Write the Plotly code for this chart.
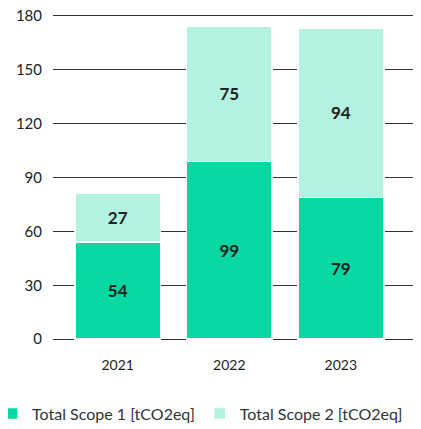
import plotly.graph_objects as go

years = ["2021", "2022", "2023"]
scope1 = [54, 99, 79]
scope2 = [27, 75, 94]
y_ticks = [0, 30, 60, 90, 120, 150, 180]

SCOPE1_COLOR = "#07d7a1"
SCOPE2_COLOR = "#b3f1e0"
TEXT = "#222222"
FONT = "Lato, 'Open Sans', sans-serif"

fig = go.Figure()
fig.add_trace(
    go.Bar(
        x=years,
        y=scope1,
        name="Total Scope 1 [tCO2eq]",
        marker=dict(color=SCOPE1_COLOR, line=dict(color="white", width=1.5)),
        text=scope1,
        textposition="inside",
        insidetextanchor="middle",
        textfont=dict(size=17, color=TEXT, family=FONT, weight="bold"),
    )
)
fig.add_trace(
    go.Bar(
        x=years,
        y=scope2,
        name="Total Scope 2 [tCO2eq]",
        marker=dict(color=SCOPE2_COLOR, line=dict(color="white", width=1.5)),
        text=scope2,
        textposition="inside",
        insidetextanchor="middle",
        textfont=dict(size=17, color=TEXT, family=FONT, weight="bold"),
    )
)

# the page body adds an 8px margin, so the figure is sized to the visible area
fig.update_layout(
    barmode="stack",
    bargap=0.23,
    width=413,
    height=421,
    paper_bgcolor="white",
    plot_bgcolor="white",
    font=dict(family=FONT, color=TEXT, size=15),
    margin=dict(l=45, r=1, t=6, b=87.5, autoexpand=False),
    showlegend=True,
    legend=dict(
        orientation="h",
        traceorder="normal",
        x=-0.166,
        xanchor="left",
        y=-0.17,
        yanchor="top",
        font=dict(size=16, color="#333333"),
        itemwidth=30,
    ),
    uniformtext=dict(minsize=14, mode="show"),
)
fig.update_xaxes(
    type="category",
    range=[-0.58, 2.71],
    showgrid=False,
    showline=False,
    ticks="",
    automargin=False,
    tickfont=dict(size=14, color=TEXT),
    ticklabelstandoff=14,
)
fig.update_yaxes(
    range=[-1, 181],
    tickvals=y_ticks,
    showgrid=True,
    gridcolor="#333333",
    gridwidth=1.3,
    zeroline=False,
    showline=False,
    automargin=False,
    ticklabeloverflow="allow",
    tickfont=dict(size=15, color=TEXT),
    ticklabelstandoff=10,
)

fig.write_html("out.html")
